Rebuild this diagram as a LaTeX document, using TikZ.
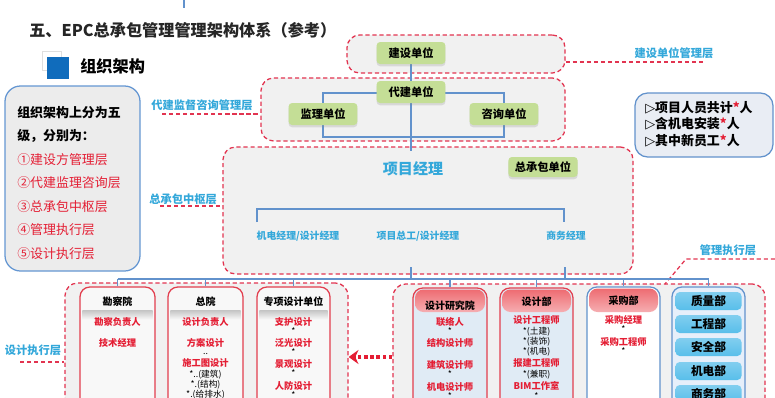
\documentclass[tikz,border=0pt]{standalone}
\usepackage{fontspec}
\setmainfont{Noto Sans CJK SC}
\newfontfamily\symfont{DejaVu Sans}
\usepackage{tikz}
\usetikzlibrary{fit,calc,arrows.meta,shadows}
\usepackage{xcolor}
\definecolor{dashred}{RGB}{226,52,80}
\definecolor{layblue}{RGB}{52,168,218}
\definecolor{connblue}{RGB}{98,146,204}
\definecolor{unitgreen}{RGB}{196,222,150}
\definecolor{laygray}{RGB}{241,241,241}
\definecolor{txtred}{RGB}{228,30,52}
\definecolor{hdrred}{RGB}{238,108,114}
\definecolor{cellblue}{RGB}{88,190,234}
\definecolor{paleblue}{RGB}{224,235,245}
\definecolor{squareblue}{RGB}{16,108,188}
\definecolor{boxblue}{RGB}{100,150,210}
\definecolor{boxgray}{RGB}{236,236,236}
\definecolor{colred}{RGB}{226,62,78}
\definecolor{colfill}{RGB}{248,248,248}
\definecolor{glbfill}{RGB}{230,239,250}
\definecolor{infofill}{RGB}{233,237,244}

\begin{document}
\begin{tikzpicture}[x=0.025cm,y=-0.025cm,
  layer/.style={draw=dashred,line width=0.9pt,dash pattern=on 3pt off 2pt,fill=laygray,rounded corners=9pt,inner sep=0pt},
  laydash/.style={draw=dashred,line width=0.9pt,dash pattern=on 3pt off 2pt},
  laytxt/.style={text=layblue,font=\fontsize{8}{9}\selectfont\bfseries,inner sep=0pt},
  conn/.style={draw=connblue,line width=0.8pt},
  unit/.style={fill=unitgreen,rounded corners=2.5pt,minimum width=1.72cm,minimum height=0.55cm,inner sep=0pt,
    font=\fontsize{8}{9}\selectfont\bfseries,drop shadow={opacity=0.22,shadow xshift=0pt,shadow yshift=-1.6pt}},
  mgr/.style={text=layblue,font=\fontsize{7}{8}\selectfont\bfseries,inner sep=0pt},
  colbox/.style={line width=0.9pt,rounded corners=7pt,inner sep=0pt},
  hdr/.style={top color=hdrred,bottom color=hdrred!55!white,rounded corners=6pt,inner sep=0pt},
  ctitle/.style={font=\fontsize{7.1}{8}\selectfont\bfseries,inner sep=0pt},
  rt/.style={text=txtred,font=\fontsize{6.6}{7}\selectfont\bfseries,inner sep=0pt},
  st/.style={font=\fontsize{6.2}{7}\selectfont,inner sep=0pt},
  cell/.style={top color=cellblue!75!white,bottom color=cellblue,rounded corners=3pt,minimum width=1.65cm,minimum height=0.45cm,
    inner sep=0pt,font=\fontsize{8.3}{9}\selectfont\bfseries},
  redarr/.style={draw=txtred,line width=2.6pt,dash pattern=on 2.6pt off 1.8pt,-{Stealth[length=7pt,width=10pt]}}]
  \useasboundingbox (0,0) rectangle (775,397);
  \clip (0,0) rectangle (775,397);
  \coordinate (prev) at (184,0);
  \draw[conn] (prev) -- ++(0,8);
  \node[anchor=west,inner sep=0pt,text=black!85,font=\fontsize{11.5}{13}\selectfont\bfseries] (title) at (29,30)
    {五、EPC总承包管理管理架构体系（参考）};
  \draw[gray!25] (42,51) rectangle (61,70);
  \node[fill=squareblue,minimum size=0.55cm,inner sep=0pt] (sq) at (58,67.5) {};
  \node[anchor=west,inner sep=0pt,font=\fontsize{11.5}{13}\selectfont\bfseries] (org) at (80,66) {组织架构};
  \node[draw=boxblue,line width=0.9pt,fill=boxgray,rounded corners=11pt,inner sep=0pt,fit={(5,86) (140,271)}] (lbox) {};
  \node[anchor=north west,align=left,inner sep=0pt,font=\fontsize{9.2}{16.7}\selectfont] (ltxt) at (17,106)
    {\textbf{组织架构上分为五}\\ \textbf{级，分别为：}\\ \textcolor{txtred}{①建设方管理层}\\ \textcolor{txtred}{②代建监理咨询层}\\
     \textcolor{txtred}{③总承包中枢层}\\ \textcolor{txtred}{④管理执行层}\\ \textcolor{txtred}{⑤设计执行层}};
  \node[layer,fit={(347,35) (565,73)}] (L1) {};
  \node[layer,fit={(261,78) (565,141)}] (L2) {};
  \node[layer,fit={(223,147) (633,274)}] (L3) {};
  \node[layer,fit={(65,283) (348,420)}] (L4) {};
  \node[layer,fit={(393,284) (765,420)}] (L5) {};
  \node[laytxt] (t1) at (674,53) {建设单位管理层};
  \coordinate (t1e) at (705,62);
  \draw[laydash] (L1.east |- t1e) -- (t1e);
  \node[laytxt] (t2) at (202,105) {代建监督咨询管理层};
  \coordinate (t2w) at (162,114);
  \draw[laydash] (t2w) -- (t2w -| L2.west);
  \node[laytxt] (t3) at (183,199) {总承包中枢层};
  \coordinate (t3w) at (160,206);
  \draw[laydash] (t3w) -- (t3w -| L3.west);
  \node[laytxt] (t4) at (728,250) {管理执行层};
  \coordinate (t4e) at (775,259);\coordinate (t4b) at (686,259);\coordinate (t4s) at (665,284);
  \draw[laydash] (t4e) -- (t4b) -- (t4s);
  \node[laytxt] (t5) at (33,350) {设计执行层};
  \coordinate (t5w) at (20,362);
  \draw[laydash] (t5w) -- (t5w -| L4.west);
  \coordinate (jsx) at (411,53);\coordinate (l3top) at (411,151);\coordinate (dbot) at (411,137);
  \coordinate (jlx) at (323,114);\coordinate (zxx) at (504,114);
  \draw[conn] (jsx) -- (l3top);
  \draw[conn] (jlx |- 0,93) -| (zxx |- dbot) -| (jlx) -- cycle;
  \node[unit] (jsdw) at (jsx) {建设单位};
  \node[unit] (djdw) at (411,92) {代建单位};
  \node[unit] (jldw) at (jlx) {监理单位};
  \node[unit] (zxdw) at (zxx) {咨询单位};
  \node[text=layblue,font=\fontsize{10.7}{12}\selectfont\bfseries,inner sep=0pt] (xmjl) at (413,169) {项目经理};
  \node[unit,minimum width=1.73cm,minimum height=0.5cm] (zcb) at (543,167) {总承包单位};
  \coordinate (bl) at (257,222);\coordinate (br) at (564,222);
  \draw[conn] (bl) -- ++(0,-13) -| (br);
  \node[mgr] (jd) at (298,236) {机电经理/设计经理};
  \node[mgr] (xz) at (418,236) {项目总工/设计经理};
  \node[mgr] (sw) at (566,236) {商务经理};
  \node[colbox,draw=colred,fill=colfill,fit={(80,287) (155,420)}] (kcy) {};
  \node[colbox,draw=colred,fill=colfill,fit={(168,287) (243,420)}] (zy) {};
  \node[colbox,draw=colred,fill=colfill,fit={(257,287) (330,420)}] (zx) {};
  \node[colbox,draw=colred,fill=paleblue,fit={(413,288) (487,420)}] (sjy) {};
  \node[colbox,draw=colred,fill=paleblue,fit={(500,288) (573,420)}] (sjb) {};
  \node[colbox,draw=connblue,fill=white,fit={(587,287) (660,420)}] (cgb) {};
  \node[colbox,draw=connblue,fill=glbfill,fit={(672,287) (745,420)}] (glb) {};
  \node[hdr,fit={(415,289.5) (485,312)}] (sjyh) {};
  \node[hdr,fit={(502,289.5) (571,312)}] (sjbh) {};
  \node[hdr,fit={(589,288.5) (658,312)}] (cgbh) {};
  \foreach \b in {kcy,zy,zx}
    \shade[top color=gray!45,bottom color=colfill] ($(\b.north west)+(3,24)$) rectangle ($(\b.north east)+(-3,33)$);
  \coordinate (bus) at (0,279);
  \coordinate (up1) at (411,267);\coordinate (up2) at (565,267);
  \draw[conn] (up1) -- (up1 |- bus);
  \draw[conn] (up2) -- (up2 |- bus);
  \draw[conn] (kcy.north |- bus) -- (glb.north |- bus);
  \foreach \b in {kcy,zy,zx,sjy,sjb,cgb,glb}
    \draw[conn] (\b.north |- bus) -- (\b.north);
  \node[ctitle] (kcyt) at (kcy.north |- 0,302) {勘察院};
  \node[ctitle] (zyt) at (zy.north |- 0,302) {总院};
  \node[ctitle] (zxt) at (zx.north |- 0,302) {专项设计单位};
  \node[ctitle] (sjyt) at (sjy.north |- 0,306) {设计研究院};
  \node[ctitle] (sjbt) at (sjb.north |- 0,302) {设计部};
  \node[ctitle] (cgbt) at (cgb.north |- 0,301) {采购部};
  \foreach \s/\yy/\tt [count=\i] in {rt/322/勘察负责人,rt/343/技术经理}
    \node[\s] (kcy-\i) at (kcy.north |- 0,\yy) {\tt};
  \foreach \s/\yy/\tt [count=\i] in {rt/322/设计负责人,rt/343/方案设计,st/354/..,rt/363/施工图设计,st/375/*..(建筑),st/385/*.(结构),st/395/*.(给排水)}
    \node[\s] (zy-\i) at (zy.north |- 0,\yy) {\tt};
  \foreach \s/\yy/\tt [count=\i] in {rt/322/支护设计,st/331/*,rt/343/泛光设计,st/352/*,rt/364/景观设计,st/373/*,rt/386/人防设计,st/395/*}
    \node[\s] (zx-\i) at (zx.north |- 0,\yy) {\tt};
  \foreach \s/\yy/\tt [count=\i] in {rt/322/联络人,st/331/*,rt/343/结构设计师,rt/365/建筑设计师,st/374/*,rt/387/机电设计师,st/396/*}
    \node[\s] (sjy-\i) at (sjy.north |- 0,\yy) {\tt};
  \foreach \s/\yy/\tt [count=\i] in {rt/320/设计工程师,st/332/*(土建),st/342/*(装饰),st/352/*(机电),rt/363/报建工程师,st/375/*(兼职),rt/386/BIM工作室,st/396/*}
    \node[\s] (sjb-\i) at (sjb.north |- 0,\yy) {\tt};
  \foreach \s/\yy/\tt [count=\i] in {rt/320/采购经理,st/329/*,rt/342/采购工程师,st/351/*}
    \node[\s] (cgb-\i) at (cgb.north |- 0,\yy) {\tt};
  \foreach \tt/\yy [count=\i] in {质量部/301,工程部/324,安全部/347,机电部/371,商务部/394}
    \node[cell] (glb-\i) at (glb.north |- 0,\yy) {\tt};
  \coordinate (arr) at (0,357);
  \draw[redarr] (L5.west |- arr) -- (L4.east |- arr);
  \node[draw=connblue,line width=0.9pt,fill=infofill,rounded corners=9pt,inner sep=0pt,fit={(635,93) (773,157)}] (info) {};
  \node[anchor=west,align=left,inner sep=0pt,font=\fontsize{9.2}{11.7}\selectfont\bfseries] (infot) at (645,124)
    {{\symfont ▷}项目人员共计\textcolor{txtred}{*}人\\ {\symfont ▷}含机电安装\textcolor{txtred}{*}人\\ {\symfont ▷}其中新员工\textcolor{txtred}{*}人};
\end{tikzpicture}
\end{document}
